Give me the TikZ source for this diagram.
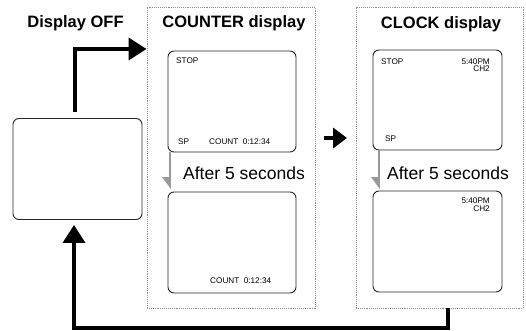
\documentclass[tikz,border=0pt]{standalone}
\usepackage{fontspec}
\setmainfont{Liberation Sans}
\usetikzlibrary{arrows.meta}
\tikzset{
  screen/.style={draw=black!85, line width=0.9pt, rounded corners=6pt, minimum width=129pt, minimum height=101pt, inner sep=0pt},
  group/.style={draw=black!45, densely dotted, line width=0.9pt, minimum width=168pt, minimum height=301pt, inner sep=0pt},
  title/.style={font=\fontsize{16.5}{18}\selectfont\bfseries, anchor=base, inner sep=0pt},
  after/.style={font=\fontsize{17.5}{19}\selectfont, anchor=base, inner sep=0pt},
  small/.style={font=\fontsize{8.2}{8.5}\selectfont, inner sep=0pt},
  bigarrow/.style={line width=3.6pt, -{Triangle[length=18pt,width=22pt]}},
  midarrow/.style={line width=3.6pt, -{Triangle[length=14pt,width=20pt]}},
  grayline/.style={draw=black!40, line width=1.6pt},
  grayhead/.style={fill=black!40, draw=none}
}
\begin{document}
\begin{tikzpicture}[x=1pt,y=-1pt]
\useasboundingbox (0,0) rectangle (526,331);
% groups
\node[group] (cntbox) at (231,157.5) {};
\node[group, minimum width=167pt] (clkbox) at (439.5,157.5) {};
% titles
\node[title] (t0) at (75.5,28) {Display OFF};
\node[title] (t1) at (234,28) {COUNTER display};
\node[title] (t2) at (441,29) {CLOCK display};
% screens
\node[screen] (offbox) at (77.5,169) {};
\node[screen, minimum width=128pt] (cnt1) at (232,101.5) {};
\node[screen, minimum width=128pt] (cnt2) at (232,242.5) {};
\node[screen, minimum height=100pt] (clk1) at (437.5,100) {};
\node[screen] (clk2) at (437.5,241.5) {};
% screen texts
\node[small, anchor=base west] (s1) at (176,64) {STOP};
\node[small, anchor=base west] (s2) at (178,144) {SP};
\node[small, anchor=base west] (s3) at (209,144) {COUNT\hspace{4.5pt}0:12:34};
\node[small, anchor=base west] (s4) at (210,283) {COUNT\hspace{4.5pt}0:12:34};
\node[small, anchor=base west] (s5) at (381,64.5) {STOP};
\node[small, anchor=base east] (s6) at (490,64.5) {5:40PM};
\node[small, anchor=base east] (s7) at (490,72) {CH2};
\node[small, anchor=base west] (s8) at (385,141) {SP};
\node[small, anchor=base east] (s9) at (490,203) {5:40PM};
\node[small, anchor=base east] (s10) at (490,211) {CH2};
% after labels
\node[after] (a1) at (244,179) {After 5 seconds};
\node[after] (a2) at (448,179) {After 5 seconds};
% gray arrows
\coordinate (g1) at (170,178);
\coordinate (g2) at (379,178);
\draw[grayline] (cnt1.south west -| g1) -- (g1);
\fill[grayhead] (162,177) -- (170.8,177) -- (170.8,189) -- cycle;
\draw[grayline] (clk1.south west -| g2) -- (g2);
\fill[grayhead] (371,177) -- (379.8,177) -- (379.8,189) -- cycle;
% big arrows
\coordinate (topturn) at (75,49);
\draw[bigarrow] ([yshift=6pt]offbox.north -| topturn) -- (topturn) -- (cntbox.west |- topturn);
\coordinate (m1) at (324,138);
\coordinate (m2) at (347,138);
\draw[midarrow] (m1) -- (m2);
\coordinate (b1) at (448,308);
\coordinate (b2) at (448,328);
\coordinate (b3) at (74,328);
\draw[bigarrow] (clkbox.south -| b1) -- (b2) -- (b3) -- ([yshift=-5pt]offbox.south -| b3);
\end{tikzpicture}
\end{document}
